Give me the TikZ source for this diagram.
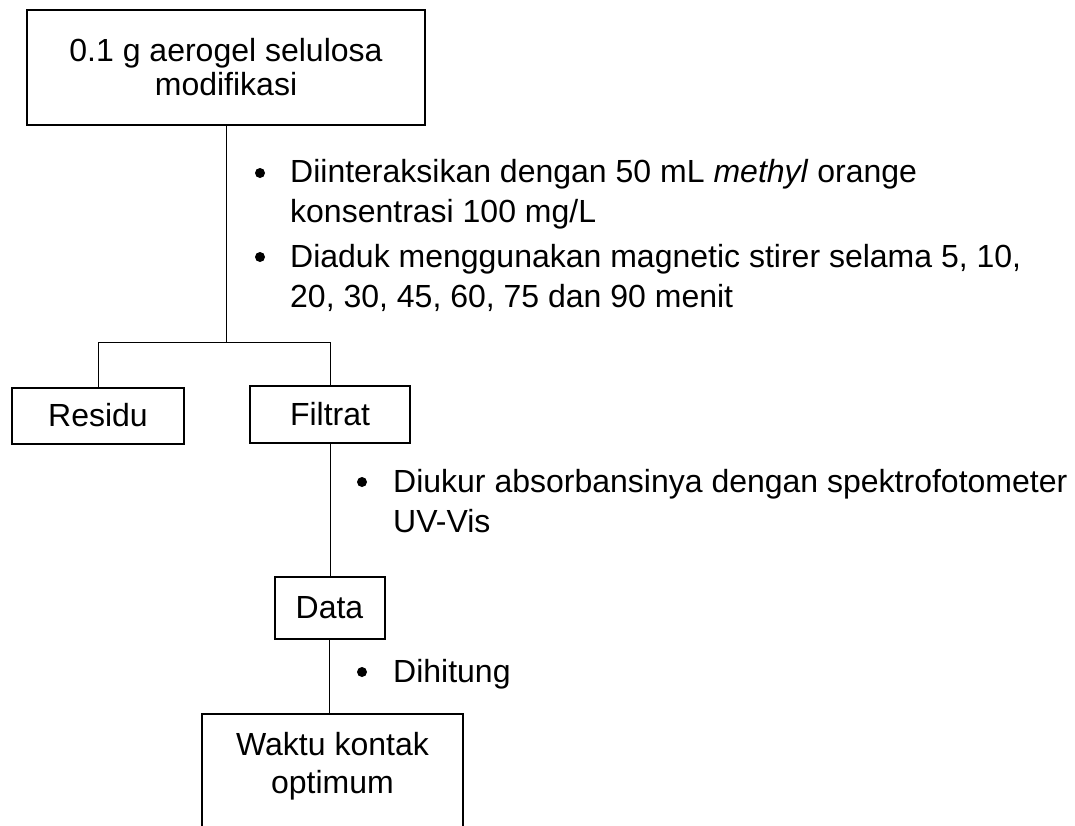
\documentclass[tikz,border=0pt]{standalone}
\usepackage{fontspec}
\setmainfont{Liberation Sans}
\newcommand{\fs}{\fontsize{32}{40}\selectfont}
\newcommand{\fsb}{\fontsize{32}{34}\selectfont}
\begin{document}
\begin{tikzpicture}[x=1pt,y=-1pt,
  box/.style={draw, line width=2pt, inner sep=0pt, align=center, font=\fsb},
  conn/.style={line width=1pt},
  txt/.style={inner sep=0pt, align=left, anchor=base west, font=\fs},
  bul/.style={circle, fill=black, inner sep=0pt, minimum size=10pt}]
\useasboundingbox (0,0) rectangle (1075,825);
% boxes
\node[box, minimum width=398pt, minimum height=115pt] (top) at (226,67.5) {0.1 g aerogel selulosa\\modifikasi};
\coordinate (j) at (226,342);
\node[box, minimum width=172pt, minimum height=56pt] (res) at (98,415.5) {Residu};
\node[box, minimum width=160pt, minimum height=57pt] (fil) at (330,414.5) {Filtrat};
\node[box, minimum width=110pt, minimum height=62pt] (dat) at (329.5,608) {Data};
\node[inner sep=0pt, inner ysep=18pt, align=center, font=\fontsize{32}{38}\selectfont, minimum width=261pt, anchor=north] (wak) at (332.5,714) {Waktu kontak\\optimum};
\draw[line width=2pt] (wak.north west |- 0,830) -- (wak.north west) -- (wak.north east) -- (wak.north east |- 0,830);
% connectors
\draw[conn] (top.south) -- (j);
\draw[conn] (res.north) -- (res.north |- j) -- (fil.north |- j) -- (fil.north);
\draw[conn] (fil.south) -- (fil.south |- dat.north);
\draw[conn] (dat.south) -- (dat.south |- wak.north);
% bullet texts (node base = baseline of the last line)
\node[bul] (b1) at (260,173) {};
\node[txt] (t1) at (290,222) {Diinteraksikan dengan 50 mL \textit{methyl} orange\\konsentrasi 100 mg/L};
\node[bul] (b2) at (260,257) {};
\node[txt] (t2) at (290,307) {Diaduk menggunakan magnetic stirer selama 5, 10,\\20, 30, 45, 60, 75 dan 90 menit};
\node[bul] (b3) at (362,482) {};
\node[txt] (t3) at (393,532) {Diukur absorbansinya dengan spektrofotometer\\UV-Vis};
\node[bul] (b4) at (362,672) {};
\node[txt] (t4) at (393,682) {Dihitung};
\end{tikzpicture}
\end{document}
